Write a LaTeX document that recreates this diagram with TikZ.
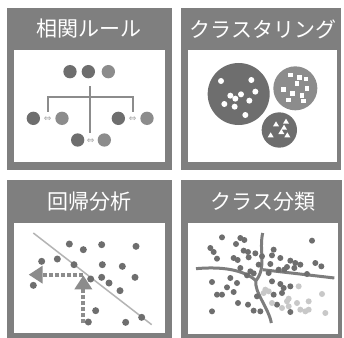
\documentclass[tikz,border=0pt]{standalone}
\usepackage{fontspec}
\newfontfamily\jpfont{Noto Sans CJK JP}
\newfontfamily\symfont{DejaVu Sans}
\usetikzlibrary{arrows.meta}
\definecolor{boxgray}{HTML}{7F7F7F}
\definecolor{dotdark}{HTML}{6E6E6E}
\definecolor{dotlight}{HTML}{8C8C8C}
\definecolor{lineline}{HTML}{B4B4B4}
\definecolor{classlight}{HTML}{C8C8C8}
\begin{document}
\begin{tikzpicture}[x=1pt, y=-1pt,
        title/.style={text=white, font=\jpfont\fontsize{21}{21}\selectfont},
        branch/.style={draw=dotlight, line width=2pt},
        pairarrow/.style={text=dotlight!80, font=\symfont\fontsize{9}{9}\selectfont, inner sep=0pt},
        guide/.style={draw=dotlight, line width=4pt, dash pattern=on 4pt off 2pt,
            -{Triangle[width=17pt, length=14pt]}},
        border/.style={draw=dotdark!90, line width=3pt}]
        \useasboundingbox (0,0) rectangle (344,337);
        \clip (0,0) rectangle (344,337);

        % panels
        \fill[boxgray] (7,8) rectangle (172,170);
        \fill[white] (14,50) rectangle (165,162);
        \fill[boxgray] (181,8) rectangle (341,170);
        \fill[white] (188,50) rectangle (337,162);
        \fill[boxgray] (7,180) rectangle (172,340);
        \fill[white] (14,223) rectangle (165,333);
        \fill[boxgray] (181,180) rectangle (342,340);
        \fill[white] (188,223) rectangle (338,334);

        % titles
        \node[title] (rules) at (89,29) {相関ルール};
        \node[title] (clustering) at (263,29) {クラスタリング};
        \node[title] (regression) at (89,202) {回帰分析};
        \node[title] (classify) at (263,202) {クラス分類};

        % association rules
        \begin{scope}[scale=1/3]
            \fill[dotdark] (210,215) circle[radius=20];
            \fill[dotdark] (265,215) circle[radius=20];
            \fill[dotlight] (325,215) circle[radius=20];
            \draw[branch] (270,258) -- (270,398);
            \draw[branch] (145,335) -- (145,292) -- (400,292) -- (400,335);
            \fill[dotdark] (100,355) circle[radius=20];
            \fill[dotlight] (186,355) circle[radius=20];
            \node[pairarrow] (leftpair) at (143,357) {⇔};
            \fill[dotdark] (355,355) circle[radius=20];
            \fill[dotlight] (441,355) circle[radius=20];
            \node[pairarrow] (rightpair) at (398,357) {⇔};
            \fill[dotdark] (233,420) circle[radius=20];
            \fill[dotlight] (313,420) circle[radius=20];
            \node[pairarrow] (midpair) at (272,422) {⇔};
        \end{scope}

        % clustering
        \begin{scope}[shift={(172,0)}, scale=1/3]
            \fill[dotdark] (200,282) circle[radius=93];
            \foreach \x/\y in {147/243, 238/240, 175/287, 207/283, 250/275,
                157/312, 188/320, 232/302, 220/345, 190/296}
                \fill[white] (\x,\y) circle[radius=9];
            \fill[dotlight] (370,265) circle[radius=66];
            \foreach \x/\y in {355/225, 383/232, 402/237, 335/268, 375/250,
                405/265, 362/280, 390/287, 350/300, 395/303}
                \fill[white] (\x-7,\y-7) rectangle ++(14,14);
            \fill[dotdark] (322,390) circle[radius=53];
            \foreach \x/\y in {312/372, 342/364, 296/405, 328/395, 346/405, 336/382}
                \fill[white] (\x-9,\y+7) -- (\x+9,\y+7) -- (\x,\y-8) -- cycle;
        \end{scope}

        % regression
        \begin{scope}[shift={(0,168)}, scale=1/3]
            \draw[lineline, line width=1.5pt] (100,195) -- (455,470);
            \foreach \x/\y in {208/228, 250/245, 305/230, 408/235, 125/280, 172/273,
                222/290, 307/290, 367/295, 272/333, 305/328, 327/345, 405/328,
                100/352, 360/368, 287/428, 265/462, 377/463, 425/448}
                \fill[dotdark] (\x,\y) circle[radius=10.5];
            \coordinate (corner) at (250,320);
            \coordinate (start) at (250,466);
            \coordinate (uptip) at (250,322);
            \coordinate (lefttip) at (86,320);
            \draw[guide] (start) -- (uptip);
            \draw[guide] (corner) -- (lefttip);
        \end{scope}

        % classification
        \begin{scope}[shift={(172,168)}, scale=1/3]
            \draw[border] (272,195) .. controls (260,250) and (285,295) .. (252,338)
                .. controls (245,370) and (290,420) .. (298,465);
            \draw[border] (72,302) .. controls (150,295) and (215,305) .. (252,338);
            \draw[border] (272,305) .. controls (330,312) and (420,322) .. (487,330);
            \foreach \x/\y in {150/208, 205/210, 217/216, 192/228, 115/240, 125/252,
                215/248, 228/252, 250/256, 305/245, 135/272, 185/270, 197/276,
                230/268, 270/265, 300/262, 325/270, 420/218, 355/278, 370/285,
                385/290, 345/297, 367/300, 295/288, 260/290, 205/300, 235/310,
                245/316, 225/322, 320/305, 337/305, 405/318, 430/285, 448/295,
                175/330, 120/342, 195/345, 165/358, 300/340, 325/348, 335/360,
                355/355, 185/372, 135/380, 150/380, 305/380, 330/375, 255/385,
                198/405, 228/410, 315/410, 245/428, 265/430, 355/432, 120/430,
                290/315}
                \fill[dotdark] (\x,\y) circle[radius=9];
            \foreach \x/\y in {280/365, 275/375, 290/370, 380/355, 300/405, 345/400,
                350/392, 375/405, 410/400, 385/425, 400/430, 410/425, 450/378,
                460/435, 330/420, 350/415}
                \fill[classlight] (\x,\y) circle[radius=9];
        \end{scope}
\end{tikzpicture}
\end{document}
